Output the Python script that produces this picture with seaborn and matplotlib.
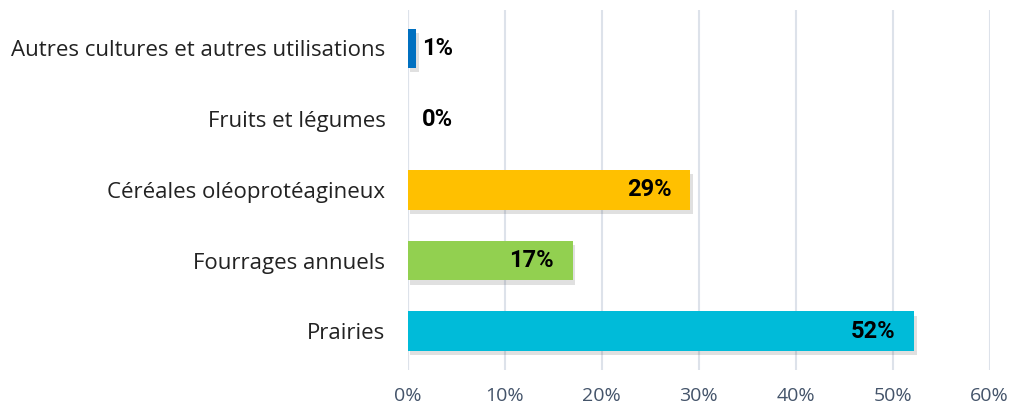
import matplotlib
matplotlib.use("Agg")
import matplotlib.pyplot as plt
import matplotlib.patheffects as pe
import seaborn as sns
import pandas as pd

categories = ["Autres cultures et autres utilisations", "Fruits et légumes",
              "Céréales oléoprotéagineux", "Fourrages annuels", "Prairies"]
values = [0.9, 0.0, 29.1, 17.0, 52.2]
labels = ["1%", "0%", "29%", "17%", "52%"]
colors = ["#0070C0", "#FFFFFF", "#FFC000", "#92D050", "#00BBD9"]
xticks = [0, 10, 20, 30, 40, 50, 60]

df = pd.DataFrame({"cat": categories, "val": values})

sns.set_style("white")
plt.rcParams["font.family"] = ["Open Sans", "DejaVu Sans"]

fig = plt.figure(figsize=(10.14, 4.05), dpi=100)
ax = fig.add_axes([0.402, 0.086, 0.574, 0.889])

sns.barplot(data=df, x="val", y="cat", hue="cat", palette=colors,
            saturation=1, linewidth=0, legend=False, width=0.56, ax=ax, zorder=3)

for p in ax.patches:
    if p.get_width() > 0:
        p.set_path_effects([pe.SimplePatchShadow(offset=(2, -3), alpha=0.15, shadow_rgbFace="#333333"),
                            pe.Normal()])

lab_font = ["Roboto", "DejaVu Sans"]
for i, (v, lab) in enumerate(zip(values, labels)):
    if v > 5:
        ax.text(v - 1.9, i, lab, ha="right", va="center", fontsize=17,
                fontweight="bold", color="black", family=lab_font, zorder=5)
    else:
        ax.text(1.5, i, lab, ha="left", va="center", fontsize=17,
                fontweight="bold", color="black", family=lab_font, zorder=5)

ax.set_xlim(0, 60)
ax.set_ylim(4.55, -0.54)
ax.set_xticks(xticks)
ax.set_xticklabels([f"{t}%" for t in xticks], fontsize=14, color="#44546A")
ax.tick_params(axis="y", labelsize=16, labelcolor="#222222", length=0, pad=16)
ax.tick_params(axis="x", length=0, pad=12)
ax.set_xlabel("")
ax.set_ylabel("")
ax.xaxis.grid(True, color="#DDE2EA", linewidth=1.5, zorder=0)
ax.axvline(0, color="#DDE2EA", linewidth=1.5, zorder=1)
for s in ax.spines.values():
    s.set_visible(False)

fig.savefig("out.png", dpi=100)
